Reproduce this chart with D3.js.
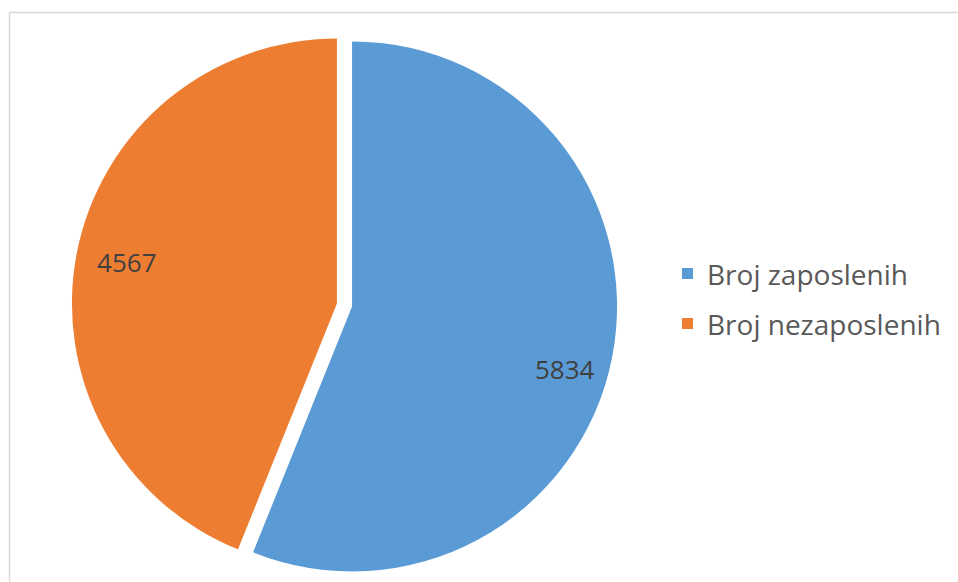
<!DOCTYPE html>
<html>
<head>
<meta charset="utf-8">
<script src="https://cdn.jsdelivr.net/npm/d3@7"></script>
<style>
  body { margin: 0; background: white; }
</style>
</head>
<body>
<div id="chart"></div>
<script>
// Chart data
const categories = ["Broj zaposlenih", "Broj nezaposlenih"];
const values = [5834, 4567];
const colors = ["#5B9BD5", "#ED7D31"];

let width = 958, height = 582;

let svg = d3.select("#chart")
    .append("svg")
    .attr("width", width)
    .attr("height", height)
    .style("background", "white");

// Chart area border (runs off the right and bottom edge)
svg.append("rect")
    .attr("x", 9.5)
    .attr("y", 12.5)
    .attr("width", width + 20)
    .attr("height", height + 20)
    .attr("fill", "none")
    .attr("stroke", "#d9d9d9")
    .attr("stroke-width", 1.5);

// Pie setup
const cx = 344.5, cy = 305, radius = 265, explode = 7.7;

const pie = d3.pie()
    .sort(null)
    .value(d => d.value);

const arcs = pie(categories.map((c, i) => ({ name: c, value: values[i] })));

const arc = d3.arc()
    .innerRadius(0)
    .outerRadius(radius);

// Excel's "best fit" labels sit near the rim; small nudges per slice
const labelRadius = [222, 214];
const labelTurn = [0.1, 0];

const g = svg.append("g")
    .attr("transform", `translate(${cx},${cy})`);

// Each slice is pulled out a bit along its bisector
const slices = g.selectAll(".slice")
    .data(arcs)
    .enter()
    .append("g")
    .attr("class", "slice")
    .attr("transform", d => {
        const a = (d.startAngle + d.endAngle) / 2;
        return `translate(${Math.sin(a) * explode},${-Math.cos(a) * explode})`;
    });

slices.append("path")
    .attr("d", arc)
    .attr("fill", (d, i) => colors[i]);

// Data labels
slices.append("text")
    .attr("transform", (d, i) => {
        const a = (d.startAngle + d.endAngle) / 2 + labelTurn[i];
        return `translate(${Math.sin(a) * labelRadius[i]},${-Math.cos(a) * labelRadius[i]})`;
    })
    .attr("text-anchor", "middle")
    .attr("dy", "0.35em")
    .style("font-family", "'Open Sans', sans-serif")
    .style("font-size", "26px")
    .style("fill", "#404040")
    .text(d => d.data.value);

// Legend
const legend = svg.append("g")
    .attr("transform", "translate(682, 268)");

categories.forEach((c, i) => {
    legend.append("rect")
        .attr("x", 0)
        .attr("y", i * 50)
        .attr("width", 11)
        .attr("height", 11)
        .attr("fill", colors[i]);

    legend.append("text")
        .attr("x", 25)
        .attr("y", i * 50 + 17)
        .style("font-family", "'Open Sans', sans-serif")
        .style("font-size", "28px")
        .style("fill", "#595959")
        .text(c);
});
</script>
</body>
</html>
